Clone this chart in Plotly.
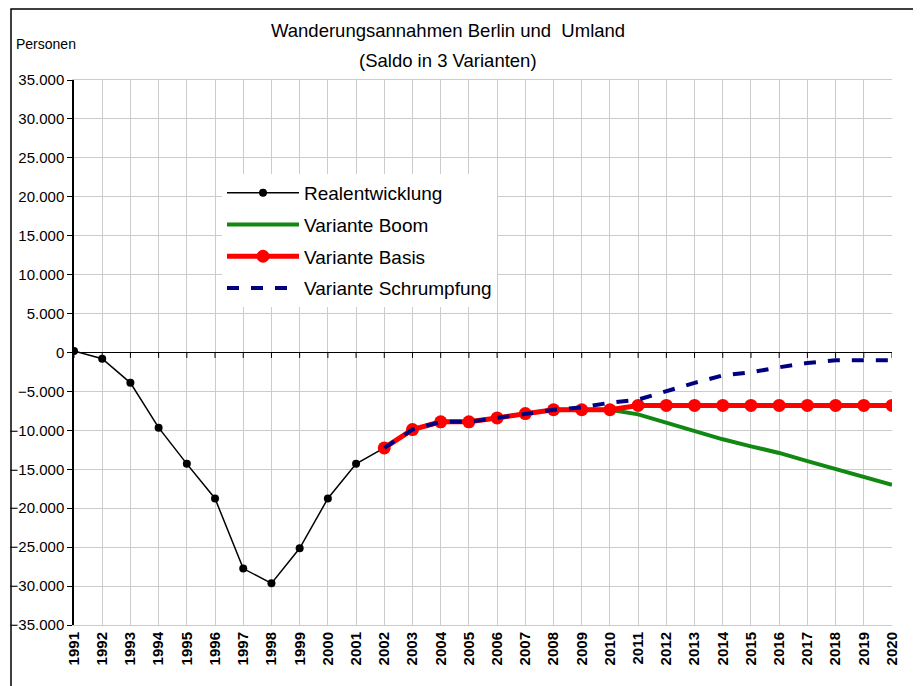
import plotly.graph_objects as go

years = list(range(1991, 2021))

real_years = list(range(1991, 2003))
real_vals = [200, -800, -3900, -9650, -14300, -18750, -27750, -29650, -25150, -18750, -14300, -12250]

basis_years = list(range(2002, 2021))
basis_vals = [-12250, -9900, -8900, -8900, -8400, -7850, -7350, -7350, -7350,
              -6800, -6800, -6800, -6800, -6800, -6800, -6800, -6800, -6800, -6800]

boom_years = list(range(2002, 2021))
boom_vals = [-12250, -9900, -8900, -8900, -8400, -7850, -7350, -7350, -7350,
             -7950, -9050, -10100, -11150, -12050, -12900, -13950, -14950, -15950, -17000]

schr_years = list(range(2002, 2021))
schr_vals = [-12250, -9900, -8900, -8900, -8400, -7850, -7350, -7050, -6450,
             -6050, -4950, -3900, -2950, -2550, -1900, -1350, -1000, -1000, -1000]

y_ticks = list(range(-35000, 35001, 5000))

# page offset from default body margin
OFF = 8
W, H = 921, 686
PL, PR, PT, PB = 74, 892, 80, 625  # plot area in page pixels
L = PL - OFF
T = PT - OFF
R = W - (PR - OFF)
B = H - (PB - OFF)
pw = PR - PL
ph = PB - PT


def px(p):
    return (p - PL) / pw


def py(p):
    return (PB - p) / ph


fig = go.Figure()
fig.add_trace(go.Scatter(x=real_years, y=real_vals, name="Realentwicklung", mode="lines+markers",
                         legendgroup="a",
                         line=dict(color="black", width=1.5), marker=dict(color="black", size=8)))
fig.add_trace(go.Scatter(x=boom_years, y=boom_vals, name="Variante Boom", mode="lines",
                         legendgroup="b",
                         line=dict(color="#118811", width=4)))
fig.add_trace(go.Scatter(x=basis_years, y=basis_vals, name="Variante Basis", mode="lines+markers",
                         legendgroup="c",
                         line=dict(color="#ff0000", width=5), marker=dict(color="#ff0000", size=13)))
fig.add_trace(go.Scatter(x=schr_years, y=schr_vals, name="Variante Schrumpfung", mode="lines",
                         legendgroup="d",
                         line=dict(color="#000080", width=4, dash="dash")))

shapes = []
# small ticks on the zero line
for yr in years:
    shapes.append(dict(type="line", xref="x", yref="y", x0=yr, x1=yr, y0=0, y1=-700,
                       line=dict(color="black", width=1)))
# outer frame
shapes.append(dict(type="rect", xref="paper", yref="paper",
                   x0=px(11), x1=px(W + 20), y0=py(H + 20), y1=py(9),
                   line=dict(color="black", width=1.5)))

fig.update_layout(
    width=W, height=H,
    margin=dict(l=L, r=R, t=T, b=B, autoexpand=False),
    paper_bgcolor="white", plot_bgcolor="white",
    separators=",.",
    font=dict(family="Liberation Sans, Arial, sans-serif", color="black"),
    showlegend=True,
    legend=dict(x=px(222), y=py(174), xanchor="left", yanchor="top",
                bgcolor="white", font=dict(size=19), itemwidth=72,
                traceorder="grouped", tracegroupgap=4),
    shapes=shapes,
    annotations=[
        dict(text="Wanderungsannahmen Berlin und  Umland", xref="paper", yref="paper",
             x=px(448), y=py(30), showarrow=False, font=dict(size=18.5),
             xanchor="center", yanchor="middle"),
        dict(text="(Saldo in 3 Varianten)", xref="paper", yref="paper",
             x=px(448), y=py(60), showarrow=False, font=dict(size=18.5),
             xanchor="center", yanchor="middle"),
        dict(text="Personen", xref="paper", yref="paper",
             x=px(14), y=py(44), showarrow=False, font=dict(size=14),
             xanchor="left", yanchor="middle"),
    ],
    xaxis=dict(range=[1991, 2020], tickmode="array", tickvals=years,
               ticktext=[f"<b>{y}</b>" for y in years], tickangle=-90,
               tickfont=dict(size=15), showgrid=True, gridcolor="#cccccc", gridwidth=1,
               zeroline=False, showline=True, linecolor="#cccccc", mirror=True, ticks=""),
    yaxis=dict(range=[-35000, 35000], tickmode="array", tickvals=y_ticks,
               tickformat=",d", tickfont=dict(size=15), showgrid=True, gridcolor="#cccccc",
               zeroline=True, zerolinecolor="black", zerolinewidth=1,
               showline=True, linecolor="black", linewidth=1.5, ticks="outside", ticklen=5,
               tickcolor="black"),
)

fig.write_html("out.html")
